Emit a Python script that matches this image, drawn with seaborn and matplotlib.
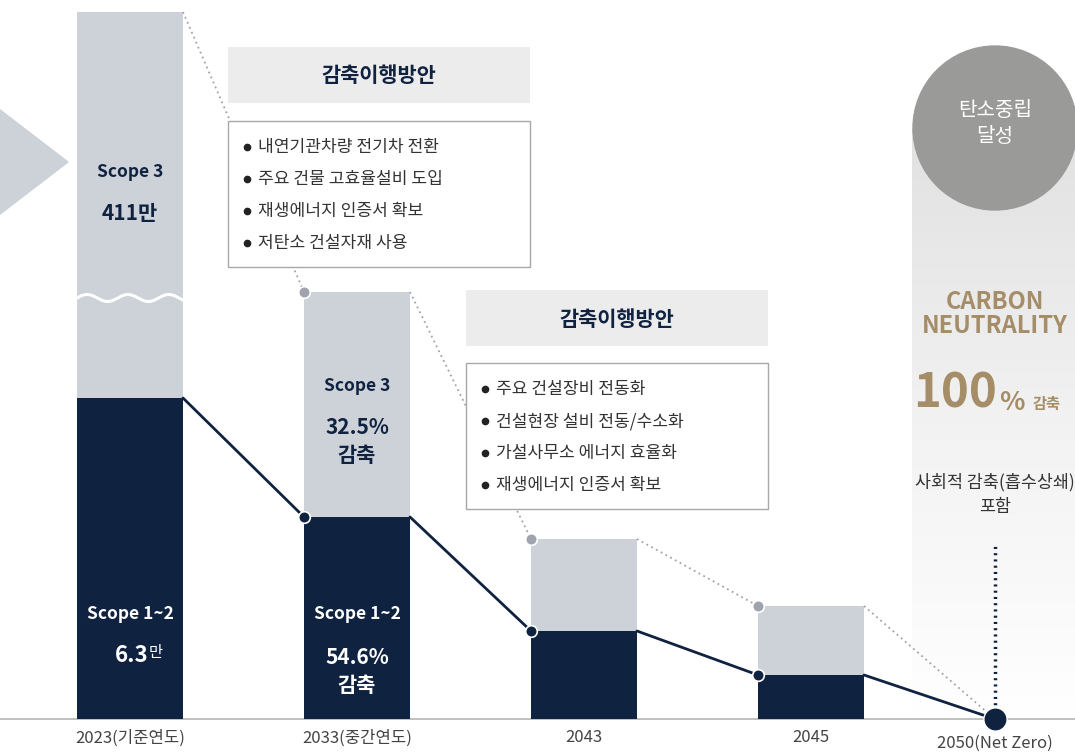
import numpy as np
import pandas as pd
import matplotlib
matplotlib.use('Agg')
import matplotlib.pyplot as plt
import seaborn as sns
from matplotlib.patches import Rectangle, Circle, Polygon

sns.set_theme(style='white')
plt.rcParams['font.family'] = ['Noto Sans CJK KR', 'DejaVu Sans']

# chart values (visual heights of the infographic)
years = ['2023(기준연도)', '2033(중간연도)', '2043', '2045', '2050(Net Zero)']
total_height = [707, 427, 180, 113, 0]      # Scope 1~3 stacked top
scope12_height = [321, 202, 88, 44, 0]      # Scope 1~2
plan_title = '감축이행방안'
plan_2033 = ['내연기관차량 전기차 전환', '주요 건물 고효율설비 도입', '재생에너지 인증서 확보', '저탄소 건설자재 사용']
plan_2043 = ['주요 건설장비 전동화', '건설현장 설비 전동/수소화', '가설사무소 에너지 효율화', '재생에너지 인증서 확보']

NAVY = '#0f2240'
LIGHT = '#cdd2d9'
DOT_GRAY = '#9ea3ad'
TAN = '#a58d68'
TXT = '#333333'
BOLD = dict(fontweight='bold')

pos = [0, 1, 2, 3, 3.81]
bar_w = 0.467
half = bar_w / 2

fig = plt.figure(figsize=(10.75, 7.52), dpi=100)

# background layer (pixel coordinates)
bg = fig.add_axes([0, 0, 1, 1], zorder=0)
bg.set_xlim(0, 1075)
bg.set_ylim(752, 0)
bg.axis('off')
grad = np.linspace(0, 1, 256).reshape(-1, 1)
cmap = matplotlib.colors.LinearSegmentedColormap.from_list('g', ['#e1e1e1', '#f2f2f2', '#ffffff'])
bg.imshow(grad, cmap=cmap, extent=(912, 1075, 719, 128), aspect='auto', zorder=0)
bg.add_patch(Circle((995, 128), 82, color='#9a9b99', zorder=1))
bg.add_patch(Polygon([(-5, 106), (68, 162), (-5, 218)], closed=True, color=LIGHT, zorder=1))
bg.plot([0, 1075], [719, 719], color='#b5b5b5', lw=1.2, zorder=1)

# data layer
ax = fig.add_axes([0, 0, 1, 1], zorder=1)
ax.patch.set_alpha(0)
df_bar = pd.DataFrame({'year': years[:4], 'total': total_height[:4], 'scope12': scope12_height[:4]})
sns.barplot(data=df_bar, x='year', y='total', color=LIGHT, saturation=1, width=bar_w, linewidth=0, ax=ax)
sns.barplot(data=df_bar, x='year', y='scope12', color=NAVY, saturation=1, width=bar_w, linewidth=0, ax=ax)

# connecting segments: top-right of one bar to top-left of the next
rows_dark, rows_light = [], []
for i in range(4):
    x0 = pos[i] + half
    x1 = pos[i + 1] - half if i < 3 else pos[i + 1]
    rows_dark += [(i, x0, scope12_height[i]), (i, x1, scope12_height[i + 1])]
    rows_light += [(i, x0, total_height[i]), (i, x1, total_height[i + 1])]
seg_dark = pd.DataFrame(rows_dark, columns=['seg', 'x', 'y'])
seg_light = pd.DataFrame(rows_light, columns=['seg', 'x', 'y'])
sns.lineplot(data=seg_light, x='x', y='y', units='seg', estimator=None, sort=False,
             color=DOT_GRAY, lw=1.3, linestyle=(0, (1, 2)), ax=ax, zorder=3)
sns.lineplot(data=seg_dark, x='x', y='y', units='seg', estimator=None, sort=False,
             color=NAVY, lw=2, ax=ax, zorder=4)

mk_x = [pos[i] - half for i in range(1, 4)]
sns.scatterplot(x=mk_x, y=total_height[1:4], color=DOT_GRAY, s=70, edgecolor='white', linewidth=1.2, ax=ax, zorder=5)
sns.scatterplot(x=mk_x, y=scope12_height[1:4], color=NAVY, s=70, edgecolor='white', linewidth=1.2, ax=ax, zorder=5)
sns.scatterplot(x=[pos[4]], y=[scope12_height[4]], color=NAVY, s=280, edgecolor='white', linewidth=1, ax=ax, zorder=6)
ax.plot([pos[4], pos[4]], [8, 174], color=NAVY, lw=2.5, linestyle=(0, (0.6, 1.2)), zorder=4)

# wavy break on the 2023 bar
wx = np.linspace(pos[0] - half, pos[0] + half, 200)
ax.plot(wx, 421 + 3.5 * np.sin((wx - wx[0]) / bar_w * 2 * np.pi * 2.6), color='white', lw=2.2, zorder=3)

ax.set_xlim(-130 / 227, (1075 - 130) / 227)
ax.set_ylim(-33, 719)
ax.axis('off')

# text labels in bars and on axis
for i, lab in enumerate(years):
    ax.text(pos[i], -19 if i < 4 else -24, lab, ha='center', va='center', fontsize=12, color='#444444')

ax.text(pos[0], 719 - 172, 'Scope 3', ha='center', va='center', fontsize=12.5, color=NAVY, **BOLD)
ax.text(pos[0], 719 - 214, '411만', ha='center', va='center', fontsize=15, color=NAVY, **BOLD)
ax.text(pos[1], 719 - 386, 'Scope 3', ha='center', va='center', fontsize=12.5, color=NAVY, **BOLD)
ax.text(pos[1], 719 - 427, '32.5%', ha='center', va='center', fontsize=15, color=NAVY, **BOLD)
ax.text(pos[1], 719 - 455, '감축', ha='center', va='center', fontsize=15, color=NAVY, **BOLD)
ax.text(pos[0], 719 - 614, 'Scope 1~2', ha='center', va='center', fontsize=12.5, color='white', **BOLD)
ax.text(pos[0] + 0.08, 719 - 655, '6.3', ha='right', va='center', fontsize=16, color='white', **BOLD)
ax.text(pos[0] + 0.082, 719 - 653, '만', ha='left', va='center', fontsize=11, color='white')
ax.text(pos[1], 719 - 614, 'Scope 1~2', ha='center', va='center', fontsize=12.5, color='white', **BOLD)
ax.text(pos[1], 719 - 657, '54.6%', ha='center', va='center', fontsize=15, color='white', **BOLD)
ax.text(pos[1], 719 - 686, '감축', ha='center', va='center', fontsize=15, color='white', **BOLD)

# foreground layer: plan boxes and right panel text (pixel coordinates)
fg = fig.add_axes([0, 0, 1, 1], zorder=2)
fg.patch.set_alpha(0)
fg.set_xlim(0, 1075)
fg.set_ylim(752, 0)
fg.axis('off')


def plan_box(x, y_head, y_list, items):
    fg.add_patch(Rectangle((x, y_head), 302, 56, color='#ececec', lw=0))
    fg.text(x + 151, y_head + 29, plan_title, ha='center', va='center', fontsize=15, fontweight='bold', color=NAVY)
    fg.add_patch(Rectangle((x, y_list), 302, 146, facecolor='white', edgecolor='#a8a8a8', lw=1))
    for k, item in enumerate(items):
        yy = y_list + 26 + 32 * k
        fg.plot(x + 19, yy, 'o', color='#222222', ms=4.5)
        fg.text(x + 30, yy, item, ha='left', va='center', fontsize=12.3, color=TXT)


plan_box(228, 47, 121, plan_2033)
plan_box(466, 290, 363, plan_2043)

fg.text(995, 110, '탄소중립', ha='center', va='center', fontsize=14.5, color='white')
fg.text(995, 136, '달성', ha='center', va='center', fontsize=14.5, color='white')
fg.text(995, 302, 'CARBON', ha='center', va='center', fontsize=17, fontweight='bold', color=TAN)
fg.text(995, 326, 'NEUTRALITY', ha='center', va='center', fontsize=17, fontweight='bold', color=TAN)
fg.text(997, 394, '100', ha='right', va='center', fontsize=34, color=TAN, **BOLD)
fg.text(999, 403, '%', ha='left', va='center', fontsize=19, fontweight='bold', color=TAN)
fg.text(1033, 404, '감축', ha='left', va='center', fontsize=11, fontweight='bold', color=TAN)
fg.text(995, 482, '사회적 감축(흡수상쇄)', ha='center', va='center', fontsize=12.5, color=TXT)
fg.text(995, 507, '포함', ha='center', va='center', fontsize=12.5, color=TXT)

fig.savefig('out.png', dpi=100)
